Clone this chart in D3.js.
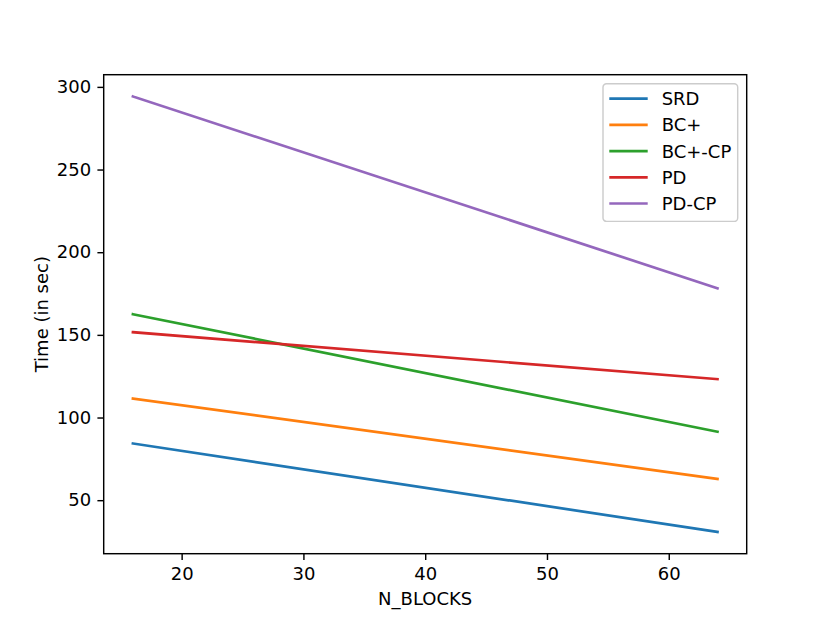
<!DOCTYPE html>
<html>
<head>
<meta charset="utf-8">
<script src="https://cdn.jsdelivr.net/npm/d3@7"></script>
<style>
  body { margin: 0; background: #fff; }
  svg text { font-family: "DejaVu Sans", sans-serif; fill: #000; }
</style>
</head>
<body>
<svg id="chart" width="830" height="623"></svg>
<script>
// data
const nBlocks = [16, 64];
const seriesNames = ['SRD', 'BC+', 'BC+-CP', 'PD', 'PD-CP'];
const srd = [84.3, 30.8];
const bcPlus = [111.5, 62.9];
const bcPlusCp = [162.5, 91.4];
const pd = [151.6, 123.2];
const pdCp = [294.2, 178.2];
const xTicks = [20, 30, 40, 50, 60];
const yTicks = [50, 100, 150, 200, 250, 300];
const colors = ['#1f77b4', '#ff7f0e', '#2ca02c', '#d62728', '#9467bd'];

const series = [srd, bcPlus, bcPlusCp, pd, pdCp].map((vals, i) => ({
  name: seriesNames[i],
  color: colors[i],
  points: nBlocks.map((x, j) => ({ x, y: vals[j] }))
}));

const margin = { top: 74.7, right: 83.3, bottom: 69.3, left: 103.7 };
const svg = d3.select('#chart');
const width = 830 - margin.left - margin.right;
const height = 623 - margin.top - margin.bottom;
const fontSize = 18;

// matplotlib style 5% padding on both axes
const xExt = d3.extent(nBlocks);
const xPad = (xExt[1] - xExt[0]) * 0.05;
const allY = series.flatMap(s => s.points.map(p => p.y));
const yExt = d3.extent(allY);
const yPad = (yExt[1] - yExt[0]) * 0.05;

const xScale = d3.scaleLinear().domain([xExt[0] - xPad, xExt[1] + xPad]).range([0, width]);
const yScale = d3.scaleLinear().domain([yExt[0] - yPad, yExt[1] + yPad]).range([height, 0]);

const chart = svg.append('g')
  .attr('transform', `translate(${margin.left},${margin.top})`);

// lines
const line = d3.line().x(d => xScale(d.x)).y(d => yScale(d.y));
chart.selectAll('.series')
  .data(series)
  .join('path')
    .attr('class', 'series')
    .attr('d', d => line(d.points))
    .attr('fill', 'none')
    .attr('stroke', d => d.color)
    .attr('stroke-width', 2.7)
    .attr('stroke-linecap', 'square');

// axes
const xAxis = d3.axisBottom(xScale).tickValues(xTicks).tickSize(6.3).tickPadding(6.3);
const yAxis = d3.axisLeft(yScale).tickValues(yTicks).tickSize(6.3).tickPadding(6.3);

const xAxisG = chart.append('g')
  .attr('transform', `translate(0,${height})`)
  .call(xAxis);
const yAxisG = chart.append('g').call(yAxis);

[xAxisG, yAxisG].forEach(g => {
  g.select('.domain').remove();
  g.selectAll('.tick line').attr('stroke', '#000').attr('stroke-width', 1.44);
  g.selectAll('.tick text').style('font-size', fontSize + 'px');
});
xAxisG.selectAll('.tick text').attr('dy', '0.76em');

// frame
chart.append('rect')
  .attr('width', width)
  .attr('height', height)
  .attr('fill', 'none')
  .attr('stroke', '#000')
  .attr('stroke-width', 1.44);

// axis titles
chart.append('text')
  .attr('x', width / 2)
  .attr('y', height + 51.3)
  .attr('text-anchor', 'middle')
  .style('font-size', fontSize + 'px')
  .text('N_BLOCKS');

chart.append('text')
  .attr('transform', 'rotate(-90)')
  .attr('x', -height / 2)
  .attr('y', -margin.left + 48)
  .attr('text-anchor', 'middle')
  .style('font-size', fontSize + 'px')
  .text('Time (in sec)');

// legend
const legendW = 134.7, legendH = 137.7;
const legend = chart.append('g')
  .attr('transform', `translate(${width - 9 - legendW},9)`);
legend.append('rect')
  .attr('width', legendW)
  .attr('height', legendH)
  .attr('rx', 3.5)
  .attr('fill', 'rgba(255,255,255,0.8)')
  .attr('stroke', '#cccccc')
  .attr('stroke-width', 1.44);

const rows = legend.selectAll('.legend-row')
  .data(series)
  .join('g')
    .attr('class', 'legend-row')
    .attr('transform', (d, i) => `translate(0,${15 + i * 26.2})`);
rows.append('line')
  .attr('x1', 6.3).attr('x2', 44.7)
  .attr('stroke', d => d.color)
  .attr('stroke-width', 2.7);
rows.append('text')
  .attr('x', 58.7)
  .attr('dy', '0.36em')
  .style('font-size', fontSize + 'px')
  .text(d => d.name);
</script>
</body>
</html>
